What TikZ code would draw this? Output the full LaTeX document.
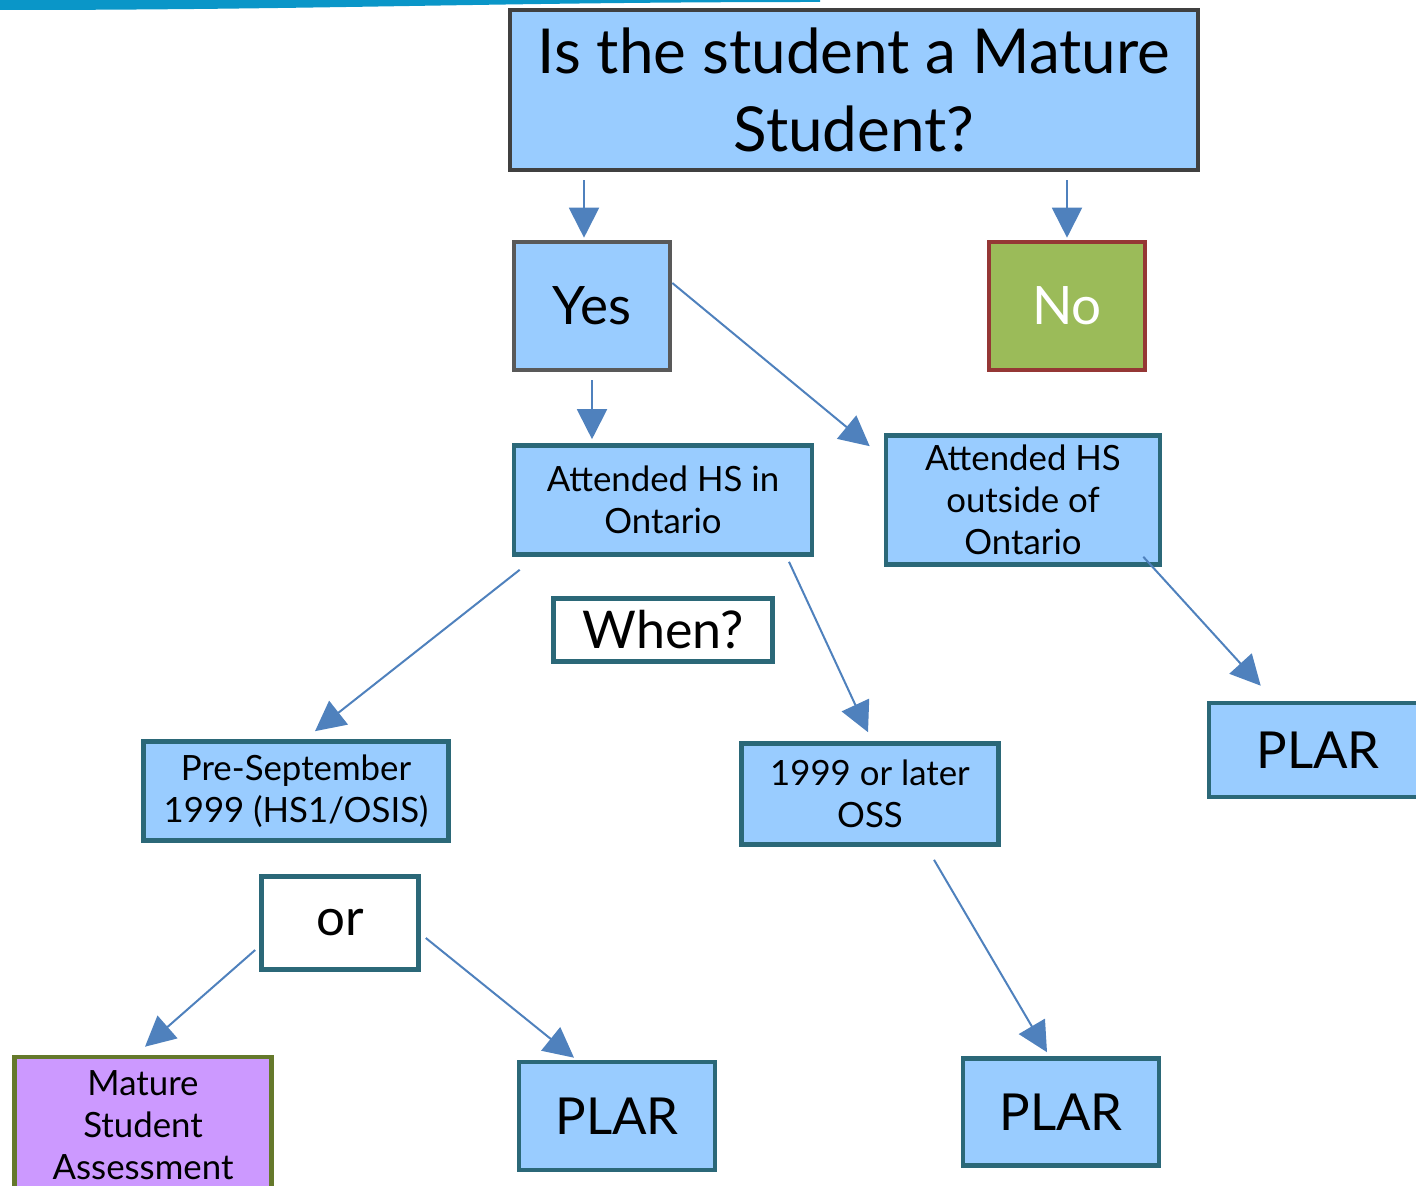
\documentclass[tikz,border=0pt]{standalone}
\usepackage{fontspec}
\setmainfont{Lato}
\usetikzlibrary{positioning}
\usetikzlibrary{arrows.meta}
\definecolor{boxblue}{HTML}{99CCFF}
\definecolor{tealline}{HTML}{2B6878}
\definecolor{arrowblue}{HTML}{4F81BD}
\definecolor{topbar}{HTML}{0A96C8}
\tikzset{>={Triangle[length=15pt,width=15pt]}}
\tikzset{box/.style={draw=tealline, line width=2.3pt, fill=boxblue, align=center, inner sep=0pt}}
\tikzset{small/.style={font=\fontsize{17.4}{21}\selectfont}}
\tikzset{big/.style={font=\fontsize{25.5}{30}\selectfont}}
\tikzset{arr/.style={->, draw=arrowblue, line width=1pt}}

\begin{document}
\begin{tikzpicture}[x=0.5pt,y=-0.5pt]
\useasboundingbox (0,0) rectangle (1416,1186);

%%% Top bar:
\fill[topbar] (0,0) -- (820,0) -- (820,2) to[out=180,in=0] (0,10) -- cycle;

%%% Question:
\node[box, draw=black!75, minimum width=344pt, minimum height=80pt,
  font=\fontsize{31}{39}\selectfont] (q) at (854,90) {Is the student a Mature\\Student?};

\node[box, draw=black!65, minimum width=78pt, minimum height=64pt,
  font=\fontsize{26.5}{30}\selectfont] (yes) at (592,306) {Yes};
\node[box, draw={rgb,255:red,149;green,55;blue,53}, fill={rgb,255:red,155;green,187;blue,89},
  text=white, minimum width=78pt, minimum height=64pt,
  font=\fontsize{26.5}{30}\selectfont] (no) at (1067,306) {No};

\draw[arr, shorten >=1pt] ([xshift=-4pt,yshift=-4pt]q.south -| yes.north) -- ([xshift=-4pt]yes.north);
\draw[arr, shorten >=1pt] ([yshift=-4pt]q.south -| no.north) -- (no.north);

%%% Where:
\node[box, small, minimum width=149pt, minimum height=54.5pt] (ont) at (663,500) {Attended HS in\\Ontario};
\node[box, small, minimum width=137pt, minimum height=64.5pt] (out) at (1023,500) {Attended HS\\outside of\\Ontario};

\draw[arr, shorten >=2pt] ([yshift=-4pt]yes.south) -- (yes.south |- ont.north);
\draw[arr] ([yshift=11.5pt]yes.east) -- ([xshift=-7pt,yshift=-6.5pt]out.north west);

%%% When:
\node[box, fill=white, font=\fontsize{26}{30}\selectfont, minimum width=109.5pt, minimum height=31.5pt] (when) at (663,630) {When?};

\node[box, small, minimum width=152.5pt, minimum height=49.5pt] (pre) at (296,791) {Pre-September\\1999 (HS1/OSIS)};
\node[box, small, minimum width=128.5pt, minimum height=50.5pt] (later) at (870,794) {1999 or later\\OSS};
\node[box, big, minimum width=109pt, minimum height=47pt] (plarr) at (1318,750) {PLAR};

\draw[arr] ([xshift=4pt,yshift=-6.5pt]ont.south west) -- ([xshift=9.5pt,yshift=4pt]pre.north);
\draw[arr] ([xshift=63pt,yshift=-2.5pt]ont.south) -- ([xshift=-1pt,yshift=4.5pt]later.north);
\draw[arr] ([xshift=-9.5pt,yshift=5pt]out.south east) -- ([xshift=27pt,yshift=7.5pt]plarr.north west);

%%% Bottom:
\node[box, fill=white, big, minimum width=78.5pt, minimum height=46.5pt] (or) at (340,923) {or};

\node[box, small, draw={rgb,255:red,101;green,121;blue,43}, fill={rgb,255:red,204;green,153;blue,255},
  minimum width=128.5pt, minimum height=68pt] (msa) at (143,1125) {Mature\\Student\\Assessment};
\node[box, big, minimum width=98pt, minimum height=54pt] (plarm) at (617,1116) {PLAR};
\node[box, big, minimum width=98pt, minimum height=53.5pt] (plarb) at (1061,1112) {PLAR};

\draw[arr] ([xshift=-2pt,yshift=-13.5pt]or.west) -- ([xshift=1pt,yshift=4pt]msa.north);
\draw[arr] ([xshift=2.5pt,yshift=-7.5pt]or.east) -- ([xshift=-21.5pt,yshift=1pt]plarm.north);
\draw[arr] ([xshift=32pt,yshift=-6.5pt]later.south) -- ([xshift=-7pt,yshift=2pt]plarb.north);

\end{tikzpicture}
\end{document}
